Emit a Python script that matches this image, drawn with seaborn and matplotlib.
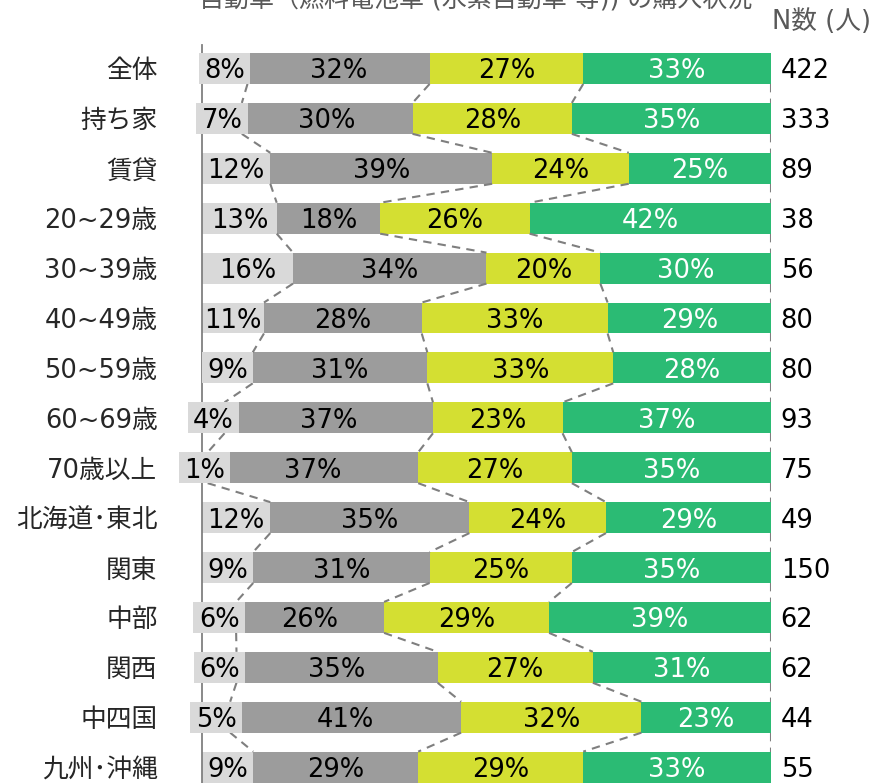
import numpy as np
import pandas as pd
import matplotlib
matplotlib.use("Agg")
import matplotlib.pyplot as plt
import seaborn as sns

categories = ["全体", "持ち家", "賃貸", "20~29歳", "30~39歳", "40~49歳", "50~59歳",
              "60~69歳", "70歳以上", "北海道･東北", "関東", "中部", "関西", "中四国", "九州･沖縄"]
seg1 = [8, 7, 12, 13, 16, 11, 9, 4, 1, 12, 9, 6, 6, 5, 9]
seg2 = [32, 30, 39, 18, 34, 28, 31, 37, 37, 35, 31, 26, 35, 41, 29]
seg3 = [27, 28, 24, 26, 20, 33, 33, 23, 27, 24, 25, 29, 27, 32, 29]
seg4 = [33, 35, 25, 42, 30, 29, 28, 37, 35, 29, 35, 39, 31, 23, 33]
n_counts = [422, 333, 89, 38, 56, 80, 80, 93, 75, 49, 150, 62, 62, 44, 55]

title = "自動車（燃料電池車 (水素自動車 等)) の購入状況"
n_header = "N数 (人)"

colors = ["#D9D9D9", "#9C9C9C", "#D4DF32", "#2BBB74"]
text_colors = ["black", "black", "black", "white"]

sns.set_style("white")
plt.rcParams["font.family"] = ["DejaVu Sans", "Noto Sans CJK JP"]

vals = np.array([seg1, seg2, seg3, seg4], dtype=float).T
vals_norm = vals / vals.sum(axis=1, keepdims=True) * 100
cum = np.cumsum(vals_norm, axis=1)
df = pd.DataFrame({"cat": categories})
for k in range(4):
    df[f"c{k}"] = cum[:, k]

fig = plt.figure(figsize=(8.78, 7.83), dpi=100)
ax = fig.add_axes([202 / 878, 0, 569 / 878, 1 - 45 / 783])

bh = 0.62
# stacked bars: draw cumulative totals from the widest down
for k in [3, 2, 1, 0]:
    sns.barplot(data=df, x=f"c{k}", y="cat", orient="h", color=colors[k],
                width=bh, linewidth=0, errorbar=None, saturation=1, ax=ax)

n = len(categories)
# dashed connectors between bars
for i in range(n - 1):
    for k in range(4):
        ax.plot([cum[i, k], cum[i + 1, k]], [i + bh / 2, i + 1 - bh / 2],
                color="#7F7F7F", lw=1.5, ls=(0, (4, 3)), zorder=1)

# value labels
for i in range(n):
    starts = np.concatenate([[0], cum[i, :-1]])
    for k in range(4):
        c = starts[k] + vals_norm[i, k] / 2
        if k == 0 and vals_norm[i, k] < 9:
            ax.barh(i, 9, left=c - 4.5, height=bh, color=colors[0], zorder=3,
                    clip_on=False, linewidth=0)
        ax.text(c, i, f"{int(vals[i, k])}%", ha="center", va="center_baseline",
                fontsize=18.5, color=text_colors[k], zorder=4, clip_on=False)
    ax.text(101.7, i, str(n_counts[i]), ha="left", va="center_baseline",
            fontsize=18.5, color="black", clip_on=False)

row0, step = 68.5, 49.9
ax.set_xlim(0, 100)
ax.set_ylim((783 - row0) / step, -(row0 - 45) / step)
ax.set_xticks([])
ax.set_yticks(range(n))
ax.set_yticklabels(categories, fontsize=18.5)
ax.tick_params(axis="y", length=0, pad=32)
ax.set_xlabel("")
ax.set_ylabel("")
for s in ["top", "right", "bottom"]:
    ax.spines[s].set_visible(False)
ax.spines["left"].set_color("#808080")
ax.spines["left"].set_linewidth(1.3)

fig.text(199 / 878, 1 - 6 / 783, title, ha="left", va="baseline", fontsize=18,
         color="#595959")
fig.text(772 / 878, 1 - 22 / 783, n_header, ha="left", va="center", fontsize=18.5,
         color="#595959")

fig.savefig("out.png", dpi=100)
